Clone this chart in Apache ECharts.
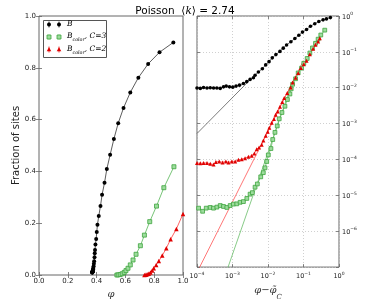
<!DOCTYPE html>
<html><head><meta charset="utf-8">
<script src="https://cdn.jsdelivr.net/npm/echarts@6/dist/echarts.min.js"></script>
<style>html,body{margin:0;padding:0;background:#fff}#c{width:374px;height:306px}</style>
</head><body><div id="c"></div>
<script>
// ---- Left panel: fraction of sites vs phi ----
const phiB  = [0.3701,0.3702,0.3703,0.3705,0.3707,0.371,0.372,0.3725,0.373,0.374,0.3755,0.377,0.379,0.381,0.383,0.3855,0.387,0.389,0.392,0.397,0.401,0.406,0.415,0.427,0.438,0.455,0.471,0.494,0.520,0.550,0.587,0.634,0.690,0.758,0.837,0.933];
const fracB = [0.0096,0.0098,0.0101,0.0104,0.0111,0.0118,0.0131,0.0148,0.0171,0.019,0.0224,0.0275,0.0338,0.0434,0.0533,0.0682,0.0839,0.097,0.118,0.139,0.166,0.194,0.228,0.266,0.310,0.356,0.409,0.464,0.525,0.586,0.645,0.705,0.762,0.815,0.860,0.898];
const phiC3  = [0.541,0.550,0.564,0.578,0.592,0.604,0.618,0.634,0.653,0.674,0.704,0.732,0.769,0.816,0.867,0.937];
const fracC3 = [0.0,0.0005,0.002,0.005,0.010,0.017,0.026,0.039,0.058,0.080,0.113,0.154,0.206,0.266,0.337,0.418];
const phiC2  = [0.732,0.742,0.751,0.762,0.774,0.786,0.797,0.814,0.832,0.856,0.884,0.914,0.954,1.0];
const fracC2 = [0.0,0.001,0.003,0.005,0.010,0.017,0.026,0.039,0.054,0.075,0.103,0.138,0.178,0.236];

// ---- Right panel: fraction vs phi - phi_C (log-log) ----
const dB = [1.00e-4,1.24e-4,1.53e-4,1.91e-4,2.36e-4,2.93e-4,3.63e-4,4.51e-4,5.58e-4,6.64e-4,8.22e-4,1.02e-3,1.26e-3,1.57e-3,2.03e-3,2.52e-3,3.13e-3,3.88e-3,4.32e-3,5.36e-3,6.93e-3,8.61e-3,1.07e-2,1.32e-2,1.67e-2,2.17e-2,2.69e-2,3.34e-2,4.42e-2,5.71e-2,7.40e-2,9.38e-2,0.122,0.157,0.208,0.270,0.356,0.443,0.573];
const fB = [0.0098,0.0096,0.0102,0.0098,0.0100,0.0098,0.0098,0.0096,0.0106,0.0111,0.0106,0.0104,0.0111,0.0118,0.0131,0.0148,0.0171,0.0190,0.0224,0.0275,0.0338,0.0434,0.0533,0.0682,0.0839,0.103,0.127,0.156,0.192,0.236,0.290,0.356,0.420,0.516,0.610,0.703,0.780,0.830,0.902];
const dC3 = [1.11e-4,1.44e-4,1.82e-4,2.36e-4,2.92e-4,3.63e-4,4.51e-4,5.58e-4,6.93e-4,8.59e-4,1.06e-3,1.32e-3,1.64e-3,2.03e-3,2.53e-3,3.13e-3,3.63e-3,4.32e-3,5.01e-3,6.24e-3,7.38e-3,8.24e-3,9.2e-3,1.02e-2,1.21e-2,1.36e-2,1.57e-2,1.82e-2,2.07e-2,2.47e-2,3.0e-2,3.52e-2,4.14e-2,4.5e-2,4.93e-2,5.98e-2,7.08e-2,8.81e-2,0.102,0.127,0.151,0.179,0.218,0.258,0.307,0.397];
const fC3 = [4.4e-6,3.6e-6,4.4e-6,4.6e-6,4.4e-6,4.7e-6,5.2e-6,4.9e-6,4.6e-6,5.2e-6,5.7e-6,5.8e-6,6.4e-6,6.7e-6,8.2e-6,1.08e-5,1.19e-5,1.69e-5,2.08e-5,3.28e-5,4.3e-5,5.86e-5,8.8e-5,1.34e-4,2.02e-4,3.6e-4,5.7e-4,8.6e-4,1.36e-3,2.04e-3,3.05e-3,4.7e-3,6.7e-3,9.3e-3,1.25e-2,1.78e-2,2.59e-2,3.52e-2,4.8e-2,6.55e-2,9.3e-2,0.129,0.173,0.226,0.295,0.403];
const dC2 = [1.00e-4,1.24e-4,1.53e-4,1.91e-4,2.36e-4,2.93e-4,3.40e-4,4.23e-4,5.24e-4,6.50e-4,7.71e-4,9.57e-4,1.19e-3,1.47e-3,1.82e-3,2.26e-3,2.81e-3,3.48e-3,4.14e-3,4.81e-3,5.60e-3,6.64e-3,7.40e-3,8.61e-3,9.79e-3,1.09e-2,1.27e-2,1.47e-2,1.64e-2,1.87e-2,2.17e-2,2.52e-2,2.86e-2,3.48e-2,4.34e-2,4.93e-2,5.98e-2,7.08e-2,8.43e-2,0.102,0.122,0.151,0.187,0.218,0.258,0.288];
const fC2 = [8.0e-5,7.8e-5,8.0e-5,8.0e-5,7.65e-5,7.2e-5,8.5e-5,8.85e-5,8.3e-5,8.85e-5,8.3e-5,8.85e-5,8.85e-5,9.8e-5,1.02e-4,1.09e-4,1.2e-4,1.28e-4,1.48e-4,1.94e-4,2.15e-4,2.59e-4,3.38e-4,4.61e-4,5.9e-4,7.7e-4,1.05e-3,1.35e-3,1.77e-3,2.17e-3,2.96e-3,4.03e-3,5.17e-3,7.18e-3,1.02e-2,1.39e-2,1.90e-2,2.59e-2,3.53e-2,4.5e-2,5.68e-2,8.55e-2,0.122,0.159,0.196,0.24];
// fitted power-law guide lines (end points)
const fitB  = [[1e-4, 5.3e-4], [3e-3, 1.6e-2]];
const fitC2 = [[1e-4, 7.1e-8], [0.1, 5.7e-2]];
const fitC3 = [[6.3e-4, 6.1e-8], [0.05, 1.5e-2]];

const zip = (a, b) => a.map((v, i) => [v, b[i]]);
const SANS = 'DejaVu Sans';
const SERIF = 'DejaVu Serif';
const AX = '#666';
const GREEN_FILL = '#9ddc9d', GREEN_EDGE = '#3fa53f', GREEN_LINE = '#55b555';
const RED = '#e00000', RED_LINE = '#ff3b3b';

const supLabel = v => {
  const e = Math.round(Math.log10(v));
  if (e < -6) return '';
  return '{b|10}{s|' + (e < 0 ? '\u2212' + (-e) : e) + '}';
};
const supRich = {
  b: {fontSize: 6.5, fontFamily: SANS, color: '#222', verticalAlign: 'bottom', lineHeight: 9},
  s: {fontSize: 4.5, fontFamily: SANS, color: '#222', verticalAlign: 'top', lineHeight: 5}
};

const chart = echarts.init(document.getElementById('c'), null, {renderer: 'canvas'});
const tickStyle = {inside: true, length: 3, lineStyle: {color: AX, width: 0.8}};
const legRich = {
  b: {fontFamily: SERIF, fontStyle: 'italic', fontSize: 7.5, color: '#222', verticalAlign: 'top', lineHeight: 10},
  s: {fontFamily: SERIF, fontStyle: 'italic', fontSize: 4.8, color: '#222', verticalAlign: 'bottom', lineHeight: 10},
  n: {fontFamily: SERIF, fontStyle: 'italic', fontSize: 7.5, color: '#222', verticalAlign: 'top', lineHeight: 10}
};

chart.setOption({
  animation: false,
  backgroundColor: '#fff',
  grid: [
    {left: 39, top: 16, width: 144, height: 259, show: true, borderColor: AX, borderWidth: 1, backgroundColor: 'transparent'},
    {left: 197, top: 16, width: 142, height: 259, show: true, borderColor: AX, borderWidth: 1, backgroundColor: 'transparent'}
  ],
  xAxis: [
    {gridIndex: 0, type: 'value', min: 0, max: 1, interval: 0.2,
     axisLine: {show: false}, axisTick: tickStyle, splitLine: {show: false},
     axisLabel: {fontSize: 7, fontFamily: SANS, color: '#222', margin: 3, formatter: v => v.toFixed(1)},
     name: 'φ', nameLocation: 'middle', nameGap: 10,
     nameTextStyle: {fontFamily: SERIF, fontStyle: 'italic', fontSize: 10, color: '#333'}},
    {gridIndex: 0, type: 'value', min: 0, max: 1, interval: 0.2, position: 'top',
     axisLine: {show: false}, axisTick: tickStyle, axisLabel: {show: false}, splitLine: {show: false}},
    {gridIndex: 1, type: 'log', logBase: 10, min: 1e-4, max: 1,
     axisLine: {show: false}, axisTick: tickStyle,
     splitLine: {show: true, lineStyle: {color: '#c4c4c4', type: [1, 2], width: 0.8}},
     axisLabel: {margin: 4, formatter: supLabel, rich: supRich},
     name: '{p|φ}{m|\u2212}{p|φ\u0303}{c|C}', nameLocation: 'middle', nameGap: 17,
     nameTextStyle: {rich: {
       p: {fontFamily: SERIF, fontStyle: 'italic', fontSize: 10, color: '#333', verticalAlign: 'top', lineHeight: 12},
       m: {fontFamily: SERIF, fontSize: 10, color: '#333', verticalAlign: 'top', lineHeight: 12},
       c: {fontFamily: SERIF, fontStyle: 'italic', fontSize: 7, color: '#333', verticalAlign: 'bottom', lineHeight: 16}}}},
    {gridIndex: 1, type: 'log', logBase: 10, min: 1e-4, max: 1, position: 'top',
     axisLine: {show: false}, axisTick: tickStyle, axisLabel: {show: false}, splitLine: {show: false}}
  ],
  yAxis: [
    {gridIndex: 0, type: 'value', min: 0, max: 1, interval: 0.2,
     axisLine: {show: false}, axisTick: tickStyle, splitLine: {show: false},
     axisLabel: {fontSize: 7, fontFamily: SANS, color: '#222', margin: 3, formatter: v => v.toFixed(1)},
     name: 'Fraction of sites', nameLocation: 'middle', nameGap: 12,
     nameTextStyle: {fontFamily: SANS, fontSize: 10, color: '#222'}},
    {gridIndex: 0, type: 'value', min: 0, max: 1, interval: 0.2, position: 'right',
     axisLine: {show: false}, axisTick: tickStyle, axisLabel: {show: false}, splitLine: {show: false}},
    {gridIndex: 1, type: 'log', logBase: 10, min: 1e-7, max: 1, position: 'right',
     axisLine: {show: false}, axisTick: tickStyle,
     splitLine: {show: true, lineStyle: {color: '#c4c4c4', type: [1, 2], width: 0.8}},
     axisLabel: {margin: 3, formatter: supLabel, rich: supRich}},
    {gridIndex: 1, type: 'log', logBase: 10, min: 1e-7, max: 1, position: 'left',
     axisLine: {show: false}, axisTick: tickStyle, axisLabel: {show: false}, splitLine: {show: false}}
  ],
  series: [
    // left panel
    {type: 'line', xAxisIndex: 0, yAxisIndex: 0, data: zip(phiB, fracB), symbol: 'circle', symbolSize: 4,
     lineStyle: {color: '#333', width: 0.8}, itemStyle: {color: '#000'}, z: 5},
    {type: 'line', xAxisIndex: 0, yAxisIndex: 0, data: zip(phiC3, fracC3), symbol: 'rect', symbolSize: 4,
     lineStyle: {color: GREEN_LINE, width: 0.8}, itemStyle: {color: GREEN_FILL, borderColor: GREEN_EDGE, borderWidth: 0.8}, z: 4},
    {type: 'line', xAxisIndex: 0, yAxisIndex: 0, data: zip(phiC2, fracC2), symbol: 'triangle', symbolSize: 4.5,
     lineStyle: {color: RED_LINE, width: 0.8}, itemStyle: {color: RED}, z: 4},
    // right panel guide lines
    {type: 'line', xAxisIndex: 2, yAxisIndex: 2, data: fitB, symbol: 'none', lineStyle: {color: '#444', width: 0.7}, z: 2},
    {type: 'line', xAxisIndex: 2, yAxisIndex: 2, data: fitC2, symbol: 'none', lineStyle: {color: RED_LINE, width: 0.7}, z: 2},
    {type: 'line', xAxisIndex: 2, yAxisIndex: 2, data: fitC3, symbol: 'none', lineStyle: {color: GREEN_LINE, width: 0.7}, z: 2},
    // right panel data
    {type: 'line', xAxisIndex: 2, yAxisIndex: 2, data: zip(dB, fB), symbol: 'circle', symbolSize: 3.6,
     lineStyle: {color: '#333', width: 0.7}, itemStyle: {color: '#000'}, z: 5},
    {type: 'line', xAxisIndex: 2, yAxisIndex: 2, data: zip(dC3, fC3), symbol: 'rect', symbolSize: 3.8,
     lineStyle: {color: GREEN_LINE, width: 0.7}, itemStyle: {color: GREEN_FILL, borderColor: GREEN_EDGE, borderWidth: 0.8}, z: 4},
    {type: 'line', xAxisIndex: 2, yAxisIndex: 2, data: zip(dC2, fC2), symbol: 'triangle', symbolSize: 4,
     lineStyle: {color: RED_LINE, width: 0.7}, itemStyle: {color: RED}, z: 4}
  ],
  graphic: [
    {type: 'text', x: 185, y: 11, z: 10, style: {
      text: '{a|Poisson}{a|  \u27E8}{k|k}{a|\u27E9 = 2.74}', align: 'center', verticalAlign: 'middle',
      rich: {a: {fontFamily: SANS, fontSize: 10.5, color: '#111'}, k: {fontFamily: SERIF, fontStyle: 'italic', fontSize: 10.5, color: '#111'}}}},
    // legend box
    {type: 'rect', z: 20, shape: {x: 43.5, y: 20.5, width: 63, height: 37}, style: {fill: '#fff', stroke: '#555', lineWidth: 1}},
    // row 1 : B
    {type: 'line', z: 21, shape: {x1: 49, y1: 21.5, x2: 49, y2: 27.5}, style: {stroke: '#000', lineWidth: 0.7}},
    {type: 'line', z: 21, shape: {x1: 59, y1: 21.5, x2: 59, y2: 27.5}, style: {stroke: '#000', lineWidth: 0.7}},
    {type: 'circle', z: 22, shape: {cx: 49, cy: 24.5, r: 2}, style: {fill: '#000'}},
    {type: 'circle', z: 22, shape: {cx: 59, cy: 24.5, r: 2}, style: {fill: '#000'}},
    {type: 'text', z: 22, x: 67, y: 25, style: {text: '{b|B}', verticalAlign: 'middle', rich: legRich}},
    // row 2 : C=3
    {type: 'line', z: 21, shape: {x1: 49, y1: 34, x2: 49, y2: 40}, style: {stroke: GREEN_FILL, lineWidth: 0.7}},
    {type: 'line', z: 21, shape: {x1: 59, y1: 34, x2: 59, y2: 40}, style: {stroke: GREEN_FILL, lineWidth: 0.7}},
    {type: 'rect', z: 22, shape: {x: 47, y: 35, width: 4, height: 4}, style: {fill: GREEN_FILL, stroke: GREEN_EDGE, lineWidth: 0.8}},
    {type: 'rect', z: 22, shape: {x: 57, y: 35, width: 4, height: 4}, style: {fill: GREEN_FILL, stroke: GREEN_EDGE, lineWidth: 0.8}},
    {type: 'text', z: 22, x: 67, y: 37.5, style: {text: '{b|B}{s|color}{n|, C=3}', verticalAlign: 'middle', rich: legRich}},
    // row 3 : C=2
    {type: 'line', z: 21, shape: {x1: 49, y1: 46.5, x2: 49, y2: 52.5}, style: {stroke: RED, lineWidth: 0.7}},
    {type: 'line', z: 21, shape: {x1: 59, y1: 46.5, x2: 59, y2: 52.5}, style: {stroke: RED, lineWidth: 0.7}},
    {type: 'polygon', z: 22, shape: {points: [[49, 47.3], [51.3, 51.3], [46.7, 51.3]]}, style: {fill: RED}},
    {type: 'polygon', z: 22, shape: {points: [[59, 47.3], [61.3, 51.3], [56.7, 51.3]]}, style: {fill: RED}},
    {type: 'text', z: 22, x: 67, y: 50, style: {text: '{b|B}{s|color}{n|, C=2}', verticalAlign: 'middle', rich: legRich}}
  ]
});
</script></body></html>
